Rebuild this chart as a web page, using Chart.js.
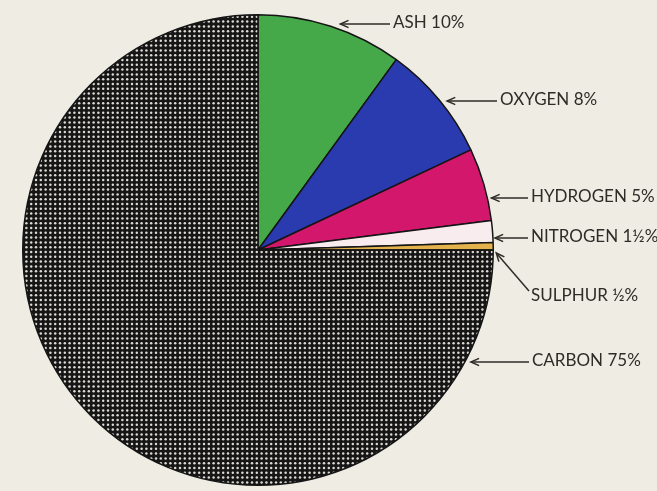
<!DOCTYPE html>
<html>
<head>
<meta charset="utf-8">
<script src="https://cdn.jsdelivr.net/npm/chart.js@4/dist/chart.umd.min.js"></script>
<style>
  html, body { margin: 0; padding: 0; background: #efece4; }
  #wrap { width: 657px; height: 491px; }
</style>
</head>
<body>
<div id="wrap"><canvas id="coal"></canvas></div>
<script>
// composition of coal, clockwise from 12 o'clock
const labels = ['ASH', 'OXYGEN', 'HYDROGEN', 'NITROGEN', 'SULPHUR', 'CARBON'];
const percentText = ['10%', '8%', '5%', '1½%', '½%', '75%'];
const values = [10, 8, 5, 1.5, 0.5, 75];

// dotted half-tone fill for carbon
function dotPattern() {
  const c = document.createElement('canvas');
  c.width = 24; c.height = 24;
  const g = c.getContext('2d');
  g.fillStyle = '#161616';
  g.fillRect(0, 0, 24, 24);
  g.fillStyle = '#dcdad2';
  for (let i = 0; i < 5; i++) {
    for (let j = 0; j < 5; j++) {
      g.beginPath();
      g.arc(2.4 + i * 4.8, 2.4 + j * 4.8, 1.25, 0, Math.PI * 2);
      g.fill();
    }
  }
  return g.createPattern(c, 'repeat');
}

const colors = ['#45a94a', '#2a3bb0', '#d3176c', '#f9ecee', '#e3b24c', dotPattern()];

// where each callout sits: text row, text left, gap between circle and arrow tip
const callouts = [
  { y: 23, textX: 393, gap: 17 },
  { y: 100, textX: 500, gap: 7 },
  { y: 197, textX: 531, gap: 4 },
  { y: 237, textX: 531, gap: 2 },
  { y: 296, textX: 531, diag: true },
  { y: 361, textX: 532, gap: 6 }
];

const calloutPlugin = {
  id: 'callouts',
  afterDraw(chart) {
    const { ctx } = chart;
    const arc = chart.getDatasetMeta(0).data[0];
    const cx = arc.x, cy = arc.y, r = arc.outerRadius;
    ctx.save();
    ctx.strokeStyle = '#2f2b27';
    ctx.fillStyle = '#2f2b27';
    ctx.lineWidth = 1.5;
    ctx.font = '17px Lato';
    ctx.textBaseline = 'middle';
    ctx.textAlign = 'left';

    callouts.forEach((c, i) => {
      let tipX, tipY, tailX, tailY;
      if (c.diag) {
        tipX = cx + r + 3; tipY = cy + 3;
        tailX = c.textX - 2; tailY = c.y - 5;
      } else {
        tipY = c.y + 1;
        tipX = cx + Math.sqrt(r * r - (tipY - cy) * (tipY - cy)) + c.gap;
        tailX = c.textX - 3; tailY = tipY;
      }
      ctx.beginPath();
      ctx.moveTo(tipX, tipY);
      ctx.lineTo(tailX, tailY);
      ctx.stroke();
      // open arrow head
      const a = Math.atan2(tailY - tipY, tailX - tipX);
      ctx.beginPath();
      ctx.moveTo(tipX + 9 * Math.cos(a - 0.42), tipY + 9 * Math.sin(a - 0.42));
      ctx.lineTo(tipX, tipY);
      ctx.lineTo(tipX + 9 * Math.cos(a + 0.42), tipY + 9 * Math.sin(a + 0.42));
      ctx.stroke();
      ctx.fillText(labels[i] + ' ' + percentText[i], c.textX, c.y);
    });
    ctx.restore();
  }
};

new Chart(document.getElementById('coal'), {
  type: 'pie',
  data: {
    labels: labels,
    datasets: [{
      data: values,
      backgroundColor: colors,
      borderColor: '#151515',
      borderWidth: 1.5
    }]
  },
  plugins: [calloutPlugin],
  options: {
    responsive: true,
    maintainAspectRatio: false,
    animation: false,
    events: [],
    layout: { padding: { left: 22, right: 163, top: 14, bottom: 5 } },
    plugins: {
      legend: { display: false },
      tooltip: { enabled: false }
    }
  }
});
</script>
</body>
</html>
